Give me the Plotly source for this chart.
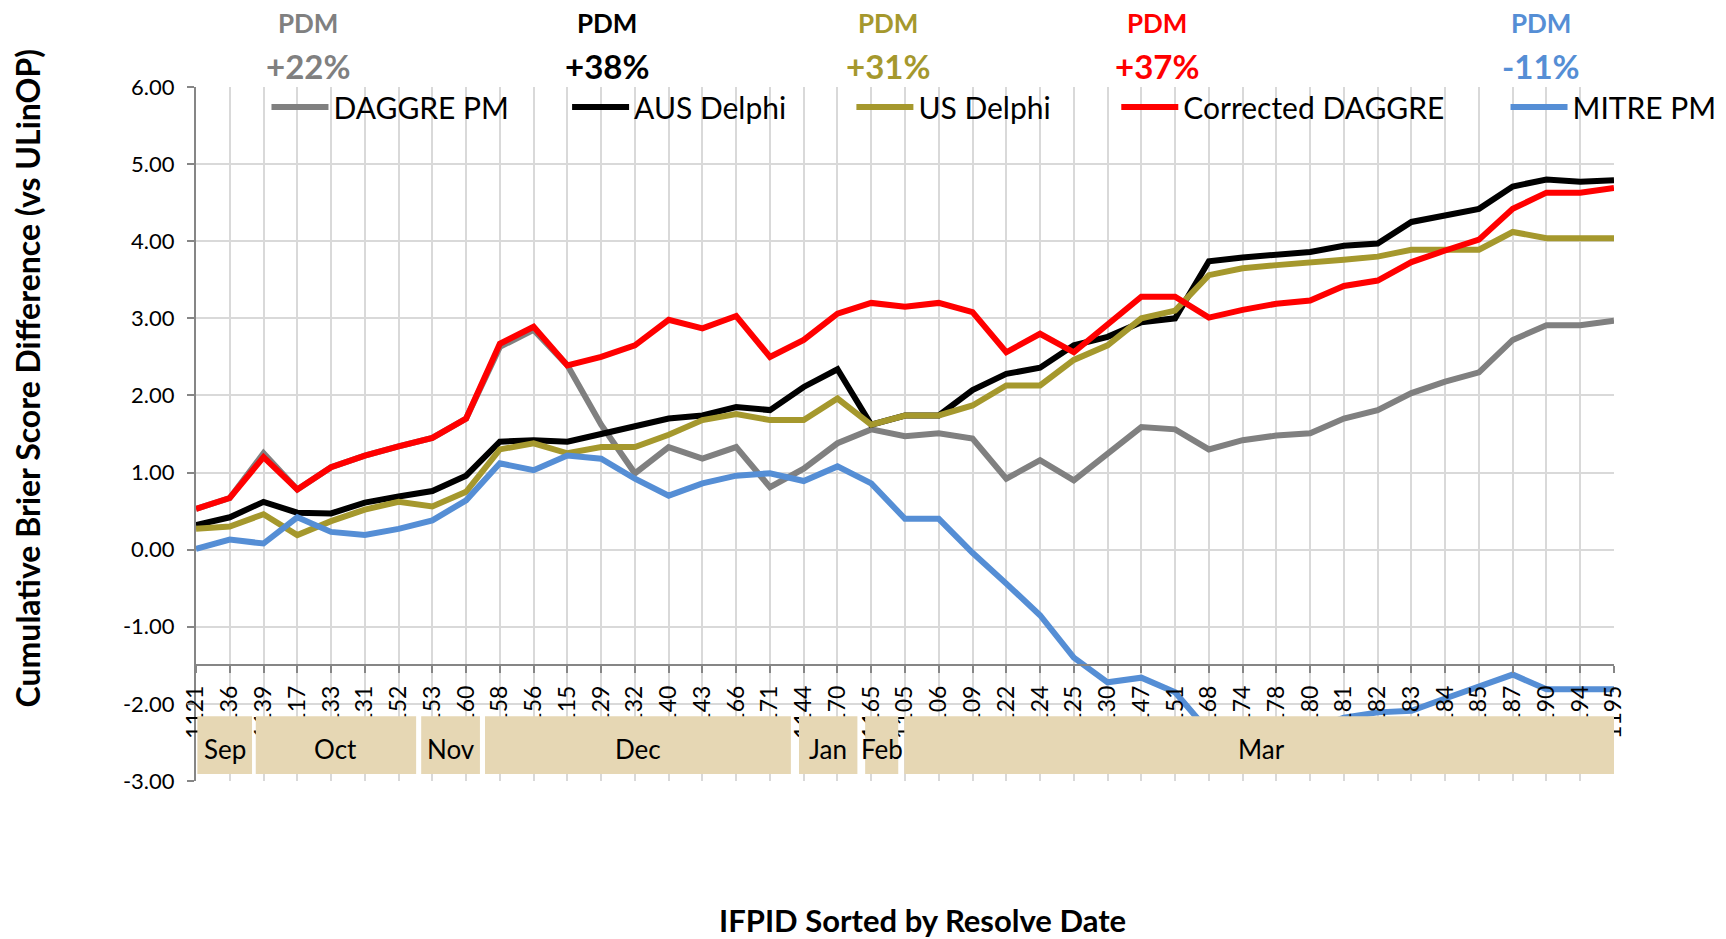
import plotly.graph_objects as go

# ---------------- data ----------------
ifpid = ["1121", "1136", "1139", "1117", "1133", "1131", "1152", "1153", "1160", "1158",
         "1156", "1115", "1129", "1132", "1140", "1143", "1166", "1171", "1144", "1170",
         "1165", "1105", "1106", "1109", "1122", "1124", "1125", "1130", "1147", "1151",
         "1168", "1174", "1178", "1180", "1181", "1182", "1183", "1184", "1185", "1187",
         "1190", "1194", "1195"]

daggre_pm = [0.53, 0.67, 1.25, 0.78, 1.07, 1.22, 1.34, 1.45, 1.70, 2.63,
             2.85, 2.39, 1.62, 0.99, 1.33, 1.18, 1.33, 0.81, 1.05, 1.38,
             1.56, 1.47, 1.51, 1.44, 0.92, 1.16, 0.90, 1.25, 1.59, 1.56,
             1.30, 1.42, 1.48, 1.51, 1.70, 1.81, 2.03, 2.18, 2.30, 2.72,
             2.91, 2.91, 2.97]

aus_delphi = [0.32, 0.42, 0.62, 0.48, 0.47, 0.61, 0.69, 0.76, 0.96, 1.40,
              1.42, 1.40, 1.50, 1.61, 1.70, 1.74, 1.85, 1.81, 2.11, 2.34,
              1.62, 1.74, 1.74, 2.07, 2.28, 2.36, 2.65, 2.76, 2.95, 3.00,
              3.74, 3.79, 3.82, 3.86, 3.94, 3.97, 4.25, 4.33, 4.42, 4.71,
              4.80, 4.77, 4.79]

us_delphi = [0.27, 0.30, 0.46, 0.19, 0.37, 0.52, 0.62, 0.56, 0.75, 1.30,
             1.38, 1.25, 1.33, 1.33, 1.49, 1.68, 1.76, 1.68, 1.68, 1.96,
             1.62, 1.74, 1.74, 1.87, 2.13, 2.13, 2.46, 2.65, 3.00, 3.10,
             3.56, 3.65, 3.69, 3.72, 3.76, 3.80, 3.89, 3.89, 3.89, 4.12,
             4.04, 4.04, 4.04]

corrected_daggre = [0.53, 0.67, 1.20, 0.78, 1.07, 1.22, 1.34, 1.45, 1.70, 2.67,
                    2.89, 2.39, 2.50, 2.65, 2.98, 2.87, 3.03, 2.50, 2.72, 3.06,
                    3.20, 3.15, 3.20, 3.08, 2.56, 2.80, 2.56, 2.91, 3.28, 3.28,
                    3.01, 3.11, 3.19, 3.23, 3.42, 3.49, 3.73, 3.88, 4.02, 4.42,
                    4.63, 4.63, 4.69]

mitre_pm = [0.01, 0.13, 0.08, 0.42, 0.23, 0.19, 0.27, 0.38, 0.64, 1.12,
            1.03, 1.22, 1.18, 0.92, 0.70, 0.86, 0.96, 0.99, 0.89, 1.08,
            0.86, 0.40, 0.40, -0.04, -0.44, -0.85, -1.40, -1.72, -1.66, -1.85,
            -2.36, -2.50, -2.50, -2.35, -2.18, -2.11, -2.09, -1.93, -1.78, -1.62,
            -1.81, -1.81, -1.81]

series_names = ["DAGGRE PM", "AUS Delphi", "US Delphi", "Corrected DAGGRE", "MITRE PM"]
pdm_labels = ["+22%", "+38%", "+31%", "+37%", "-11%"]
months = ["Sep", "Oct", "Nov", "Dec", "Jan", "Feb", "Mar"]
y_tick_values = [-3, -2, -1, 0, 1, 2, 3, 4, 5, 6]
y_tick_labels = [f"{v:.2f}" for v in y_tick_values]

# ---------------- styling / layout config ----------------
FONT = "Lato"
colors = ["#808080", "#000000", "#A5982D", "#FF0000", "#558ED5"]
legend_x = [0.0497, 0.2617, 0.4622, 0.6490, 0.9235]
pdm_x = [0.079, 0.290, 0.4880, 0.6780, 0.9485]
month_box_spans = [(0.04, 1.66), (1.77, 6.52), (6.67, 8.41), (8.56, 17.62),
                   (17.86, 19.59), (19.82, 20.80), (20.98, 42.15)]
BOX_Y = (-2.91, -2.16)

series = [daggre_pm, aus_delphi, us_delphi, corrected_daggre, mitre_pm]

fig = go.Figure()
for i, (name, vals) in enumerate(zip(series_names, series)):
    fig.add_trace(go.Scatter(
        x=ifpid, y=vals, mode="lines", name=name,
        line=dict(color=colors[i], width=6),
        legend="legend" if i == 0 else f"legend{i + 1}",
    ))

legend_common = dict(
    orientation="h", yanchor="middle", y=0.9712, xanchor="left",
    bgcolor="rgba(0,0,0,0)", borderwidth=0, itemwidth=57,
    font=dict(family=FONT, size=30, color="#000000"),
)
legends = {}
for i in range(5):
    key = "legend" if i == 0 else f"legend{i + 1}"
    legends[key] = dict(legend_common, x=legend_x[i])

shapes = []
annotations = []
for (x0, x1), m in zip(month_box_spans, months):
    shapes.append(dict(type="rect", xref="x", yref="y", x0=x0, x1=x1,
                       y0=BOX_Y[0], y1=BOX_Y[1], fillcolor="#E6D7B4",
                       line=dict(width=0), layer="above"))
    annotations.append(dict(xref="x", yref="y", x=(x0 + x1) / 2, y=-2.585,
                            xanchor="center", yanchor="middle",
                            text=m, showarrow=False,
                            font=dict(family=FONT, size=26, color="#000000")))

for i in range(5):
    annotations.append(dict(xref="paper", yref="paper", x=pdm_x[i], y=1.0915,
                            xanchor="center", yanchor="middle",
                            text="<b>PDM</b>", showarrow=False,
                            font=dict(family=FONT, size=26, color=colors[i])))
    annotations.append(dict(xref="paper", yref="paper", x=pdm_x[i], y=1.0305,
                            xanchor="center", yanchor="middle",
                            text=f"<b>{pdm_labels[i]}</b>", showarrow=False,
                            font=dict(family=FONT, size=33, color=colors[i])))

annotations.append(dict(xref="paper", yref="paper", x=0.5120, y=-0.2006,
                        xanchor="center", yanchor="middle",
                        text="<b>IFPID Sorted by Resolve Date</b>", showarrow=False,
                        font=dict(family=FONT, size=31, color="#000000")))
annotations.append(dict(xref="paper", yref="paper", x=-0.1185, y=0.580,
                        xanchor="center", yanchor="middle",
                        text="<b>Cumulative Brier Score Difference (vs ULinOP)</b>",
                        textangle=-90, showarrow=False,
                        font=dict(family=FONT, size=32, color="#000000")))

fig.update_layout(
    width=1726, height=939,
    margin=dict(l=188, r=120, t=79, b=166, autoexpand=False),
    paper_bgcolor="white", plot_bgcolor="white",
    font=dict(family=FONT, color="#000000"),
    showlegend=True,
    shapes=shapes, annotations=annotations,
    **legends,
)

fig.update_xaxes(
    type="category", range=[0, 42],
    tickmode="array", tickvals=ifpid, ticktext=ifpid,
    tickangle=-90, tickfont=dict(family=FONT, size=23, color="#000000"),
    showgrid=True, gridcolor="#D9D9D9", gridwidth=2,
    showline=True, linecolor="#868686", linewidth=2,
    ticks="outside", ticklen=7, tickcolor="#868686", tickwidth=2,
    ticklabelstandoff=3,
    anchor="free", position=1.5 / 9, zeroline=False,
)
fig.update_yaxes(
    range=[-3, 6], tickmode="array", tickvals=y_tick_values, ticktext=y_tick_labels,
    tickfont=dict(family=FONT, size=22, color="#000000"),
    showgrid=True, gridcolor="#D9D9D9", gridwidth=2,
    showline=True, linecolor="#868686", linewidth=2,
    ticks="outside", ticklen=7, tickcolor="#868686", tickwidth=2,
    ticklabelstandoff=8,
    zeroline=False,
)

fig.write_html("out.html")
